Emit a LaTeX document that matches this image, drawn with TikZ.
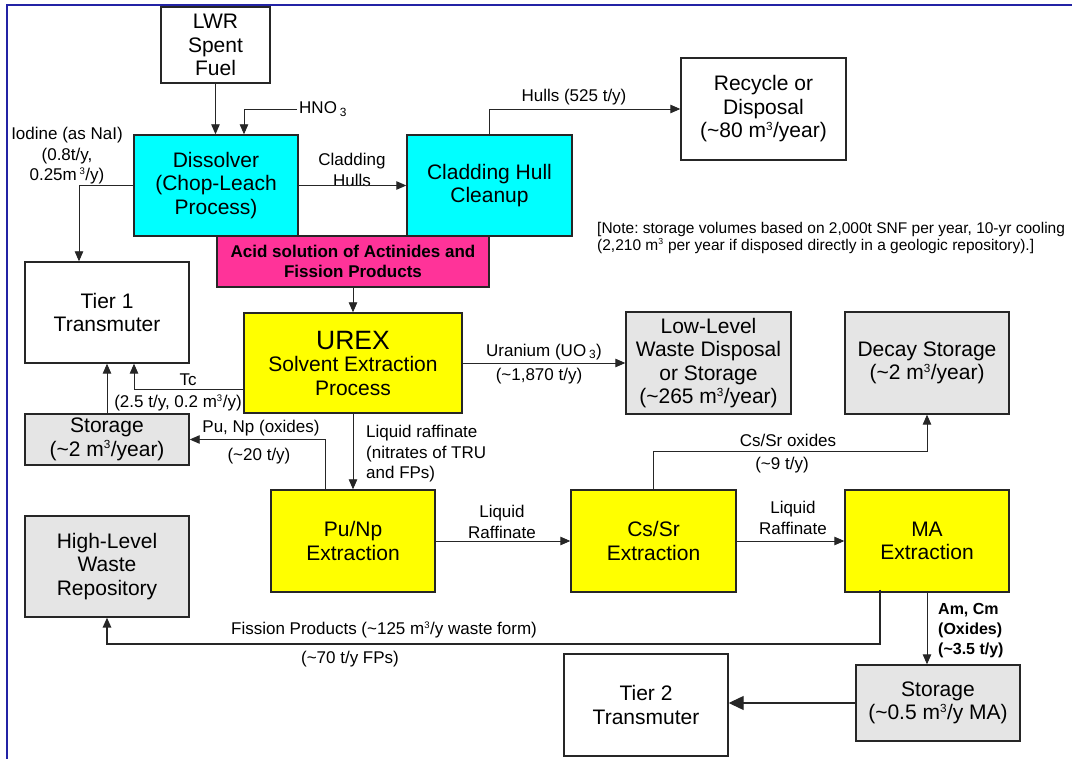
\documentclass[tikz,border=0pt]{standalone}
\usepackage{fontspec}
\setmainfont{Liberation Sans}
\usetikzlibrary{arrows.meta}
\definecolor{cyanbox}{RGB}{0,255,255}
\definecolor{yelbox}{RGB}{255,255,0}
\definecolor{magbox}{RGB}{255,51,153}
\definecolor{graybox}{RGB}{229,229,229}
\definecolor{frameblue}{RGB}{35,35,165}
\newcommand\bxfont{\fontsize{21}{23.5}\selectfont}
\newcommand\urexfont{\fontsize{26.5}{27}\selectfont}
\newcommand\lbfont{\fontsize{17}{20.5}\selectfont}
\newcommand\notefont{\fontsize{15.5}{17}\selectfont}
\newcommand\acidfont{\fontsize{17}{20}\selectfont\bfseries}
\newcommand\tth{\textsuperscript{\scalebox{0.8}{3}}}
\frenchspacing
\begin{document}
\begin{tikzpicture}[x=1pt,y=-1pt,
  box/.style={draw=black!85, line width=1.4pt, align=center, inner sep=0pt, font=\bxfont},
  sz/.style 2 args={minimum width=#1, minimum height=#2},
  arr/.style={-{Triangle[length=10pt,width=8.5pt]}, line width=0.9pt, draw=black!85},
  bigarr/.style={-{Triangle[length=15pt,width=14pt]}, line width=1.2pt, draw=black!85},
  lbl/.style={font=\lbfont, align=center, inner sep=0pt},
]
\useasboundingbox (0,0) rectangle (1072,759);
\fill[white] (0,0) rectangle (1072,759);
\draw[frameblue, line width=1.5pt] (7,759) -- (7,5) -- (1072,5);

% boxes
\node[box, sz={109pt}{76pt}] (lwr) at (215.5,45) {LWR\\Spent\\Fuel};
\node[box, fill=cyanbox, sz={164pt}{101pt}] (dis) at (216,185.5) {Dissolver\\(Chop-Leach\\Process)};
\node[box, fill=cyanbox, sz={165pt}{101pt}] (chc) at (489.5,185.5) {Cladding Hull\\Cleanup};
\node[box, sz={165pt}{102pt}] (rec) at (763.5,109) {Recycle or\\Disposal\\(\textasciitilde80 m\tth/year)};
\node[box, fill=magbox, sz={272pt}{51pt}, font=\acidfont] (acid) at (353,261.5) {Acid solution of Actinides and\\Fission Products};
\node[box, fill=yelbox, sz={218pt}{100pt}] (urex) at (353,363) {{\urexfont UREX}\\[-1pt]Solvent Extraction\\Process};
\node[box, fill=graybox, sz={165pt}{102pt}] (llw) at (708.5,363) {Low-Level\\Waste Disposal\\or Storage\\(\textasciitilde265 m\tth/year)};
\node[box, fill=graybox, sz={164pt}{102pt}] (dec) at (927,363) {Decay Storage\\(\textasciitilde2 m\tth/year)};
\node[box, sz={164pt}{101pt}] (t1) at (107,312.5) {Tier 1\\Transmuter};
\node[box, fill=graybox, sz={164pt}{51pt}] (st1) at (107,439.5) {Storage\\(\textasciitilde2 m\tth/year)};
\node[box, fill=yelbox, sz={164pt}{102pt}] (pu) at (353,541) {Pu/Np\\Extraction};
\node[box, fill=yelbox, sz={165pt}{102pt}] (cs) at (653.5,541) {Cs/Sr\\Extraction};
\node[box, fill=yelbox, sz={164pt}{102pt}] (ma) at (927,541) {MA\\Extraction};
\node[box, fill=graybox, sz={164pt}{101pt}] (hlw) at (107,566.5) {High-Level\\Waste\\Repository};
\node[box, fill=graybox, sz={164pt}{76pt}] (st2) at (938,703) {Storage\\(\textasciitilde0.5 m\tth/y MA)};
\node[box, sz={164pt}{102pt}] (t2) at (646,705) {Tier 2\\Transmuter};

% labels
\node[lbl, anchor=west, inner sep=2pt] (hno) at (297,109) {HNO\,\textsubscript{3}};
\node[lbl] (iod) at (67,156) {Iodine (as NaI)\\(0.8t/y,\\0.25m\,\tth/y)};
\node[lbl] (clh) at (352,170) {Cladding\\Hulls};
\node[lbl] (hul) at (574,97) {Hulls (525 t/y)};
\node[lbl] (tc) at (188,380) {Tc};
\node[lbl] (tcq) at (178,403) {(2.5 t/y, 0.2 m\tth/y)};
\node[lbl] (pun) at (261,428) {Pu, Np (oxides)};
\node[lbl] (puq) at (259,456) {(\textasciitilde20 t/y)};
\node[lbl] (ura) at (544,352) {Uranium (UO\,\textsubscript{3})};
\node[lbl] (uraq) at (539,376) {(\textasciitilde1,870 t/y)};
\node[lbl, anchor=west, align=left] (lqr) at (366,454) {Liquid raffinate\\(nitrates of TRU\\and FPs)};
\node[lbl] (lr1) at (502,522) {Liquid\\Raffinate};
\node[lbl] (lr2) at (793,518) {Liquid\\Raffinate};
\node[lbl] (cso) at (788,440) {Cs/Sr oxides};
\node[lbl] (csq) at (782,465) {(\textasciitilde9 t/y)};
\node[lbl, anchor=west, align=left, font=\fontsize{16}{20}\selectfont\bfseries] (amc) at (938,631) {Am, Cm\\(Oxides)\\(\textasciitilde3.5 t/y)};
\node[lbl] (fis) at (384,630) {Fission Products (\textasciitilde125 m\tth/y waste form)};
\node[lbl] (fisq) at (350,659) {(\textasciitilde70 t/y FPs)};
\node[lbl, anchor=west, align=left, font=\notefont] (note) at (597,237.5) {[Note: storage volumes based on 2,000t SNF per year, 10-yr cooling\\(2,210 m\tth{} per year if disposed directly in a geologic repository).]};

% connectors
\draw[arr] (lwr.south) -- (lwr.south |- dis.north);
\draw[arr] (hno.west) -| ([xshift=28pt]dis.north);
\draw[arr] (dis.west) -| ([xshift=-28pt]t1.north);
\draw[arr] (dis.east) -- (chc.west);
\draw[arr] (chc.north) |- (rec.west);
\draw[arr] (acid.south) -- (urex.north);
\draw[arr] (urex.east) -- (llw.west);
\draw[arr] ([yshift=-26pt]urex.west) -| ([xshift=27pt]t1.south);
\draw[arr] (st1.north) -- (t1.south);
\draw[arr] ([xshift=-28pt]pu.north) |- (st1.east);
\draw[arr] (urex.south) -- (pu.north);
\draw[arr] (pu.east) -- (cs.west);
\draw[arr] (cs.east) -- (ma.west);
\draw[arr] (cs.north) -- ++(0,-38) -| (dec.south);
\draw[arr] (ma.south) -- (ma.south |- st2.north);
\draw[bigarr] (st2.west) -- (st2.west -| t2.east);
\draw[arr, line width=1.6pt] ([xshift=-47pt,yshift=3pt]ma.south) -- ++(0,54) -| (hlw.south);
\end{tikzpicture}
\end{document}
